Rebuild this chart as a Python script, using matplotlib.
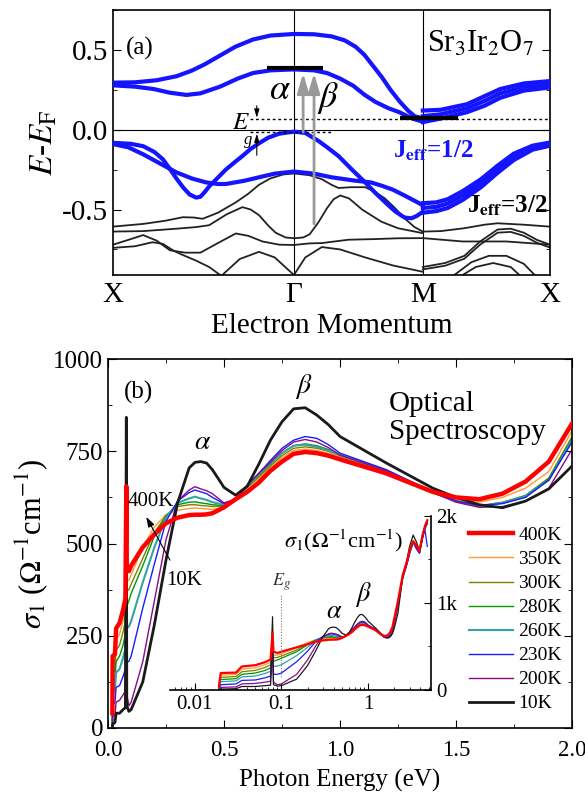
"""Sr3Ir2O7 band structure (a) and optical conductivity (b)."""
import matplotlib
matplotlib.use("Agg")
import matplotlib.pyplot as plt
from matplotlib.ticker import MultipleLocator, LogLocator, NullFormatter

plt.rcParams["font.family"] = ["Liberation Serif", "DejaVu Serif"]
plt.rcParams["mathtext.fontset"] = "stix"
plt.rcParams["axes.linewidth"] = 1.2

# ---------------- panel (a): band structure, k along X-G-M-X ----------------
K_X0, K_G, K_M, K_X1 = 0.0, 0.414, 0.709, 1.0
k_ticks = [K_X0, K_G, K_M, K_X1]
k_labels = ["X", "Γ", "M", "X"]

# Jeff=1/2 bands (k, E)
cb_top = [(0, 0.295), (0.05, 0.297), (0.10, 0.31), (0.145, 0.335), (0.18, 0.37), (0.21, 0.41),
          (0.245, 0.465), (0.28, 0.52), (0.32, 0.565), (0.36, 0.59), (0.414, 0.60), (0.46, 0.598),
          (0.50, 0.585), (0.53, 0.56), (0.555, 0.52), (0.575, 0.47), (0.595, 0.40), (0.615, 0.33),
          (0.635, 0.25), (0.655, 0.18), (0.675, 0.12), (0.69, 0.085), (0.709, 0.07)]
cb_low = [(0, 0.278), (0.05, 0.27), (0.093, 0.255), (0.13, 0.232), (0.168, 0.218), (0.2, 0.228),
          (0.245, 0.27), (0.285, 0.32), (0.32, 0.355), (0.36, 0.372), (0.414, 0.378), (0.46, 0.372),
          (0.49, 0.355), (0.52, 0.32), (0.55, 0.275), (0.575, 0.22), (0.60, 0.175), (0.63, 0.135),
          (0.655, 0.11), (0.685, 0.07), (0.709, 0.05)]
cb_mx_hi = [(0.709, 0.12), (0.75, 0.125), (0.81, 0.16), (0.85, 0.21), (0.886, 0.255), (0.94, 0.29), (1.0, 0.305)]
cb_mx_mid = [(0.709, 0.085), (0.75, 0.097), (0.81, 0.135), (0.85, 0.18), (0.886, 0.228), (0.94, 0.268), (1.0, 0.285)]
cb_mx_lo = [(0.709, 0.048), (0.75, 0.07), (0.81, 0.11), (0.85, 0.15), (0.886, 0.20), (0.94, 0.245), (1.0, 0.265)]
vb_a = [(0, -0.082), (0.04, -0.088), (0.069, -0.103), (0.095, -0.14), (0.114, -0.185), (0.13, -0.245),
        (0.145, -0.305), (0.16, -0.36), (0.175, -0.405), (0.19, -0.425), (0.2, -0.42), (0.21, -0.39),
        (0.22, -0.355), (0.24, -0.3), (0.258, -0.25), (0.28, -0.2), (0.296, -0.165), (0.315, -0.12),
        (0.334, -0.085), (0.355, -0.05), (0.38, -0.025), (0.414, -0.012), (0.44, -0.02), (0.47, -0.07),
        (0.49, -0.11), (0.516, -0.165), (0.545, -0.245), (0.577, -0.33), (0.6, -0.395), (0.622, -0.452),
        (0.645, -0.51), (0.667, -0.55), (0.683, -0.555), (0.695, -0.54), (0.709, -0.514)]
vb_b = [(0, -0.09), (0.035, -0.11), (0.069, -0.154), (0.11, -0.215), (0.145, -0.267), (0.18, -0.305),
        (0.213, -0.33), (0.24, -0.34), (0.258, -0.34), (0.3, -0.32), (0.334, -0.298), (0.37, -0.275),
        (0.414, -0.262), (0.46, -0.275), (0.5, -0.298), (0.554, -0.319), (0.59, -0.33), (0.614, -0.35),
        (0.64, -0.375), (0.667, -0.412), (0.69, -0.445), (0.709, -0.473)]
vb_mx_hi = [(0.709, -0.46), (0.74, -0.455), (0.766, -0.435), (0.80, -0.385), (0.842, -0.31),
            (0.88, -0.225), (0.917, -0.15), (0.96, -0.10), (1.0, -0.08)]
vb_mx_mid = [(0.709, -0.49), (0.74, -0.483), (0.766, -0.462), (0.80, -0.412), (0.842, -0.335),
             (0.88, -0.248), (0.917, -0.168), (0.96, -0.112), (1.0, -0.09)]
vb_mx_lo = [(0.709, -0.52), (0.74, -0.51), (0.766, -0.49), (0.80, -0.44), (0.842, -0.36),
            (0.88, -0.27), (0.917, -0.19), (0.96, -0.125), (1.0, -0.10)]

# Jeff=3/2 bands (k, E)
j32_bands = [
    [(0, -0.607), (0.069, -0.59), (0.12, -0.57), (0.16, -0.548), (0.185, -0.55), (0.205, -0.558),
     (0.24, -0.52), (0.281, -0.455), (0.31, -0.4), (0.334, -0.345), (0.36, -0.305), (0.39, -0.28),
     (0.414, -0.274), (0.45, -0.285), (0.478, -0.31), (0.5, -0.345), (0.516, -0.365), (0.545, -0.36),
     (0.577, -0.36), (0.6, -0.39), (0.622, -0.43), (0.645, -0.49), (0.667, -0.555), (0.69, -0.61),
     (0.709, -0.638), (0.75, -0.635), (0.804, -0.617), (0.85, -0.595), (0.88, -0.586), (0.94, -0.595),
     (1.0, -0.607)],
    [(0, -0.638), (0.07, -0.635), (0.145, -0.62), (0.19, -0.61), (0.22, -0.598), (0.26, -0.53),
     (0.296, -0.485), (0.315, -0.5), (0.334, -0.535), (0.355, -0.6), (0.372, -0.645), (0.395, -0.675),
     (0.414, -0.68), (0.435, -0.675), (0.45, -0.655), (0.47, -0.58), (0.49, -0.49), (0.505, -0.435),
     (0.52, -0.412), (0.54, -0.43), (0.57, -0.5), (0.614, -0.576), (0.652, -0.617), (0.709, -0.648)],
    [(0, -0.72), (0.035, -0.69), (0.069, -0.66), (0.1, -0.695), (0.13, -0.755), (0.165, -0.77),
     (0.2, -0.77), (0.24, -0.71), (0.281, -0.65), (0.31, -0.665), (0.342, -0.70), (0.38, -0.72),
     (0.414, -0.722), (0.45, -0.712), (0.478, -0.71), (0.539, -0.689), (0.6, -0.685), (0.652, -0.68),
     (0.709, -0.679), (0.8, -0.70), (0.9, -0.70), (1.0, -0.72)],
    [(0, -0.74), (0.05, -0.73), (0.09, -0.705), (0.114, -0.715), (0.14, -0.76), (0.16, -0.785),
     (0.19, -0.82), (0.22, -0.86), (0.245, -0.91)],
    [(0.25, -0.91), (0.29, -0.81), (0.334, -0.765), (0.37, -0.8), (0.414, -0.91)],
    [(0.414, -0.91), (0.44, -0.8), (0.478, -0.735), (0.52, -0.75), (0.577, -0.8), (0.64, -0.85),
     (0.709, -0.89)],
    [(0.709, -0.86), (0.76, -0.835), (0.804, -0.79), (0.84, -0.70), (0.88, -0.625), (0.91, -0.62),
     (0.94, -0.645), (0.97, -0.69), (1.0, -0.72)],
    [(0.709, -0.875), (0.76, -0.852), (0.804, -0.808), (0.84, -0.72), (0.88, -0.645), (0.91, -0.64),
     (0.94, -0.665), (0.97, -0.708), (1.0, -0.738)],
    [(0.781, -0.91), (0.82, -0.83), (0.86, -0.79), (0.9, -0.79), (0.94, -0.84), (0.965, -0.91)],
    [(0.80, -0.91), (0.83, -0.86), (0.87, -0.835), (0.91, -0.86), (0.93, -0.91)],
]

# ---------------- panel (b): optical conductivity ----------------
energy = [0.019, 0.02, 0.03, 0.035, 0.05, 0.065, 0.075, 0.079, 0.081, 0.09, 0.1, 0.15, 0.2, 0.25,
          0.3, 0.35, 0.375, 0.4, 0.425, 0.45, 0.5, 0.55, 0.6, 0.65, 0.7, 0.75, 0.8, 0.85, 0.9, 0.95,
          1.0, 1.2, 1.4, 1.5, 1.6, 1.7, 1.8, 1.9, 2.0, 2.2, 2.5, 2.8, 3.0, 3.3, 3.6, 3.9, 4.2, 4.5, 4.8]
s_400K = [40, 195, 200, 270, 285, 320, 350, 655, 440, 425, 440, 490, 525, 555, 570, 577, 578, 578,
          579, 582, 598, 620, 640, 665, 697, 722, 743, 748, 745, 738, 728, 690, 640, 625, 620, 635,
          668, 722, 825, 1020, 1320, 1480, 1600, 1710, 1660, 1600, 1760, 1880, 1950]
s_350K = [20, 170, 180, 240, 255, 290, 320, 750, 400, 400, 415, 490, 545, 578, 590, 595, 596, 595,
          594, 592, 600, 620, 650, 675, 705, 732, 752, 756, 752, 745, 735, 695, 640, 618, 612, 625,
          650, 695, 805, 1010, 1310, 1470, 1590, 1700, 1650, 1590, 1750, 1870, 1940]
s_300K = [15, 145, 155, 210, 225, 260, 290, 600, 370, 375, 390, 460, 530, 575, 600, 605, 605, 603,
          602, 600, 602, 620, 652, 680, 710, 738, 758, 762, 758, 750, 738, 695, 638, 615, 602, 612,
          630, 678, 790, 1000, 1300, 1460, 1580, 1700, 1640, 1580, 1740, 1860, 1930]
s_280K = [10, 120, 130, 180, 195, 225, 255, 560, 330, 345, 365, 440, 520, 575, 605, 612, 613, 610,
          608, 605, 603, 620, 655, 685, 715, 745, 765, 770, 765, 755, 740, 697, 638, 615, 602, 610,
          630, 675, 785, 995, 1295, 1455, 1575, 1700, 1630, 1575, 1735, 1860, 1920]
s_260K = [8, 95, 105, 150, 160, 190, 215, 520, 270, 275, 290, 395, 490, 570, 610, 622, 627, 622,
          618, 612, 605, 620, 655, 688, 718, 745, 765, 768, 762, 752, 740, 697, 638, 615, 602, 610,
          628, 672, 780, 990, 1290, 1450, 1570, 1695, 1620, 1570, 1730, 1850, 1900]
s_230K = [5, 60, 70, 110, 115, 140, 160, 480, 180, 180, 195, 325, 445, 560, 615, 638, 645, 640,
          635, 625, 608, 620, 658, 690, 725, 758, 780, 790, 785, 768, 745, 700, 640, 615, 603, 608,
          625, 672, 775, 985, 1290, 1450, 1570, 1700, 1625, 1570, 1730, 1850, 1650]
s_200K = [3, 30, 35, 70, 75, 90, 100, 450, 90, 60, 70, 180, 345, 510, 615, 645, 654, 648,
          643, 635, 610, 620, 658, 690, 720, 752, 775, 782, 775, 760, 740, 697, 638, 612, 598, 600,
          615, 650, 755, 960, 1280, 1450, 1570, 1710, 1640, 1580, 1740, 1860, 1920]
s_10K = [0, 10, 15, 40, 40, 50, 55, 842, 60, 45, 50, 125, 280, 455, 610, 705, 720, 722,
         718, 700, 652, 631, 655, 715, 780, 830, 865, 868, 848, 822, 790, 718, 650, 625, 605, 597,
         615, 648, 710, 880, 1300, 1500, 1650, 1780, 1700, 1600, 1780, 1880, 1950]

temps = ["400K", "350K", "300K", "280K", "260K", "230K", "200K", "10K"]
spectra = [s_400K, s_350K, s_300K, s_280K, s_260K, s_230K, s_200K, s_10K]
colors = ["#ff0000", "#ff9933", "#808000", "#009900", "#33a3a3", "#1a1aff", "#8a0a8a", "#1a1a1a"]
main_lw = [3.2, 1.0, 1.0, 1.0, 1.5, 1.0, 1.0, 2.0]

fig = plt.figure(figsize=(5.85, 7.95), dpi=100)

# ---- (a)
ax = fig.add_axes([0.1932, 0.6541, 0.7470, 0.3333])
BLUE = "#1414ff"
for band in (cb_top, cb_low, cb_mx_hi, cb_mx_mid, cb_mx_lo, vb_a, vb_b, vb_mx_hi, vb_mx_mid, vb_mx_lo):
    ax.plot([p[0] for p in band], [p[1] for p in band], color=BLUE, lw=3.0, solid_joinstyle="round", zorder=3)
for band in j32_bands:
    ax.plot([p[0] for p in band], [p[1] for p in band], color="#222222", lw=1.3, zorder=2)

ax.axvline(K_G, color="k", lw=0.8, zorder=1)
ax.axvline(K_M, color="k", lw=0.8, zorder=1)
ax.axhline(0, color="k", lw=0.8, zorder=1)
ax.plot([0.313, 1.0], [0.07, 0.07], ls=(0, (2, 2)), color="k", lw=1.0, zorder=4)
ax.plot([0.313, 0.503], [-0.015, -0.015], ls=(0, (2, 2)), color="k", lw=1.0, zorder=4)
ax.plot([0.352, 0.481], [0.385, 0.385], color="k", lw=3.0, zorder=5, solid_capstyle="butt")
ax.plot([0.657, 0.789], [0.075, 0.075], color="k", lw=3.0, zorder=5, solid_capstyle="butt")

for x0, y0 in [(0.435, -0.015), (0.46, -0.59)]:
    ax.annotate("", xy=(x0, 0.355), xytext=(x0, y0),
                arrowprops=dict(arrowstyle="-|>,head_length=1.2,head_width=0.35", color="#999999",
                                lw=2.0, shrinkA=0, shrinkB=0), zorder=6)
ax.annotate("", xy=(0.329, 0.075), xytext=(0.329, 0.15),
            arrowprops=dict(arrowstyle="-|>,head_length=0.5,head_width=0.15", color="k", lw=0.8,
                            shrinkA=0, shrinkB=0))
ax.annotate("", xy=(0.329, -0.025), xytext=(0.329, -0.16),
            arrowprops=dict(arrowstyle="-|>,head_length=0.5,head_width=0.15", color="k", lw=0.8,
                            shrinkA=0, shrinkB=0))
ax.text(0.293, 0.045, "$E$", fontsize=18, ha="center", va="center")
ax.text(0.31, -0.065, "g", fontsize=12, style="italic", ha="center", va="center")
ax.text(0.382, 0.245, r"$\alpha$", fontsize=26, ha="center", va="center")
ax.text(0.493, 0.20, r"$\beta$", fontsize=26, ha="center", va="center")
ax.text(0.03, 0.51, "(a)", fontsize=18, ha="left", va="center")
ax.text(0.962, 0.535, r"Sr$_3$Ir$_2$O$_7$", fontsize=22, ha="right", va="center")
ax.text(0.64, -0.13, r"J$_{\mathbf{eff}}$=1/2", fontsize=18, fontweight="bold", color=BLUE,
        ha="left", va="center")
ax.text(0.81, -0.475, r"J$_{\mathbf{eff}}$=3/2", fontsize=18, fontweight="bold", color="k",
        ha="left", va="center")

ax.set_xlim(0, 1)
ax.set_ylim(-0.91, 0.75)
ax.set_xticks(k_ticks)
ax.set_xticklabels(k_labels)
ax.tick_params(axis="x", length=0, labelsize=21, pad=5)
ax.yaxis.set_major_locator(MultipleLocator(0.5))
ax.yaxis.set_minor_locator(MultipleLocator(0.25))
ax.yaxis.set_major_formatter(plt.FuncFormatter(lambda v, p: f"{v:.1f}"))
ax.tick_params(axis="y", which="both", direction="in", right=True, labelsize=21)
ax.tick_params(axis="y", which="major", length=6)
ax.tick_params(axis="y", which="minor", length=3)
ax.set_xlabel("Electron Momentum", fontsize=21, labelpad=4)
ax.set_ylabel(r"$E$-$E_{\mathrm{F}}$", fontsize=24, labelpad=2)

# ---- (b)
bx = fig.add_axes([0.1846, 0.0843, 0.7932, 0.4641])
handles = {}
order = [1, 2, 3, 4, 5, 6, 7, 0]
for i in order:
    ln, = bx.plot(energy, spectra[i], color=colors[i], lw=main_lw[i], zorder=3 if i in (0, 7) else 2)
    handles[temps[i]] = ln
bx.set_xlim(0, 2.0)
bx.set_ylim(0, 1000)
bx.xaxis.set_major_locator(MultipleLocator(0.5))
bx.xaxis.set_minor_locator(MultipleLocator(0.25))
bx.yaxis.set_major_locator(MultipleLocator(250))
bx.yaxis.set_minor_locator(MultipleLocator(125))
bx.tick_params(which="both", direction="in", top=True, right=True, labelsize=18)
bx.tick_params(axis="x", labelsize=16.5, pad=9)
bx.tick_params(which="major", length=6)
bx.tick_params(which="minor", length=3)
bx.set_xlabel("Photon Energy (eV)", fontsize=18, labelpad=5)
bx.set_ylabel(r"$\sigma_1$ ($\Omega^{-1}$cm$^{-1}$)", fontsize=22, labelpad=2)

bx.text(0.07, 910, "(b)", fontsize=18, ha="left", va="center")
bx.text(0.41, 775, r"$\alpha$", fontsize=20, ha="center", va="center")
bx.text(0.845, 925, r"$\beta$", fontsize=20, ha="center", va="center")
bx.text(1.21, 840, "Optical\nSpectroscopy", fontsize=21, ha="left", va="center", linespacing=1.1)
bx.text(0.085, 613, "400K", fontsize=15, ha="left", va="center", zorder=5)
bx.text(0.25, 400, "10K", fontsize=15, ha="left", va="center")
bx.annotate("", xy=(0.165, 572), xytext=(0.267, 455),
            arrowprops=dict(arrowstyle="-|>,head_length=0.6,head_width=0.2", color="k", lw=0.8,
                            shrinkA=0, shrinkB=0))

leg = bx.legend([handles[t] for t in temps], temps, loc="upper left", bbox_to_anchor=(0.757, 0.572),
                frameon=False, fontsize=14, handlelength=2.25, handletextpad=0.3, labelspacing=0.33,
                borderpad=0)

# ---- inset
ix = fig.add_axes([0.2906, 0.1321, 0.4462, 0.2189])
ix.patch.set_alpha(0)
for i in order:
    ix.plot(energy, spectra[i], color=colors[i], lw=1.6 if i == 0 else 0.9)
ix.set_xscale("log")
ix.set_xlim(0.0052, 5.3)
ix.set_ylim(0, 2000)
ix.spines["top"].set_visible(False)
ix.spines["left"].set_visible(False)
ix.set_xticks([0.01, 0.1, 1])
ix.set_xticklabels(["0.01", "0.1", "1"])
ix.xaxis.set_minor_locator(LogLocator(base=10, subs=range(2, 10)))
ix.xaxis.set_minor_formatter(NullFormatter())
ix.yaxis.tick_right()
ix.set_yticks([0, 1000, 2000])
ix.set_yticklabels(["0", "1k", "2k"])
ix.yaxis.set_minor_locator(MultipleLocator(500))
ix.tick_params(which="both", direction="in", labelsize=15)
ix.tick_params(which="major", length=5)
ix.tick_params(which="minor", length=2.5)
ix.plot([0.1, 0.1], [150, 1090], color="#777777", lw=0.8, ls=(0, (1, 1.5)))
ix.text(0.1, 1240, "$E_g$", fontsize=13, ha="center", va="center", color="#333333")
ix.text(0.41, 900, r"$\alpha$", fontsize=19, ha="center", va="center")
ix.text(0.89, 1092, r"$\beta$", fontsize=19, ha="center", va="center")
ix.text(0.665, 0.86, r"$\sigma_1$($\Omega^{-1}$cm$^{-1}$)", transform=ix.transAxes, fontsize=16,
        ha="center", va="center")

fig.savefig("out.png", dpi=100)
